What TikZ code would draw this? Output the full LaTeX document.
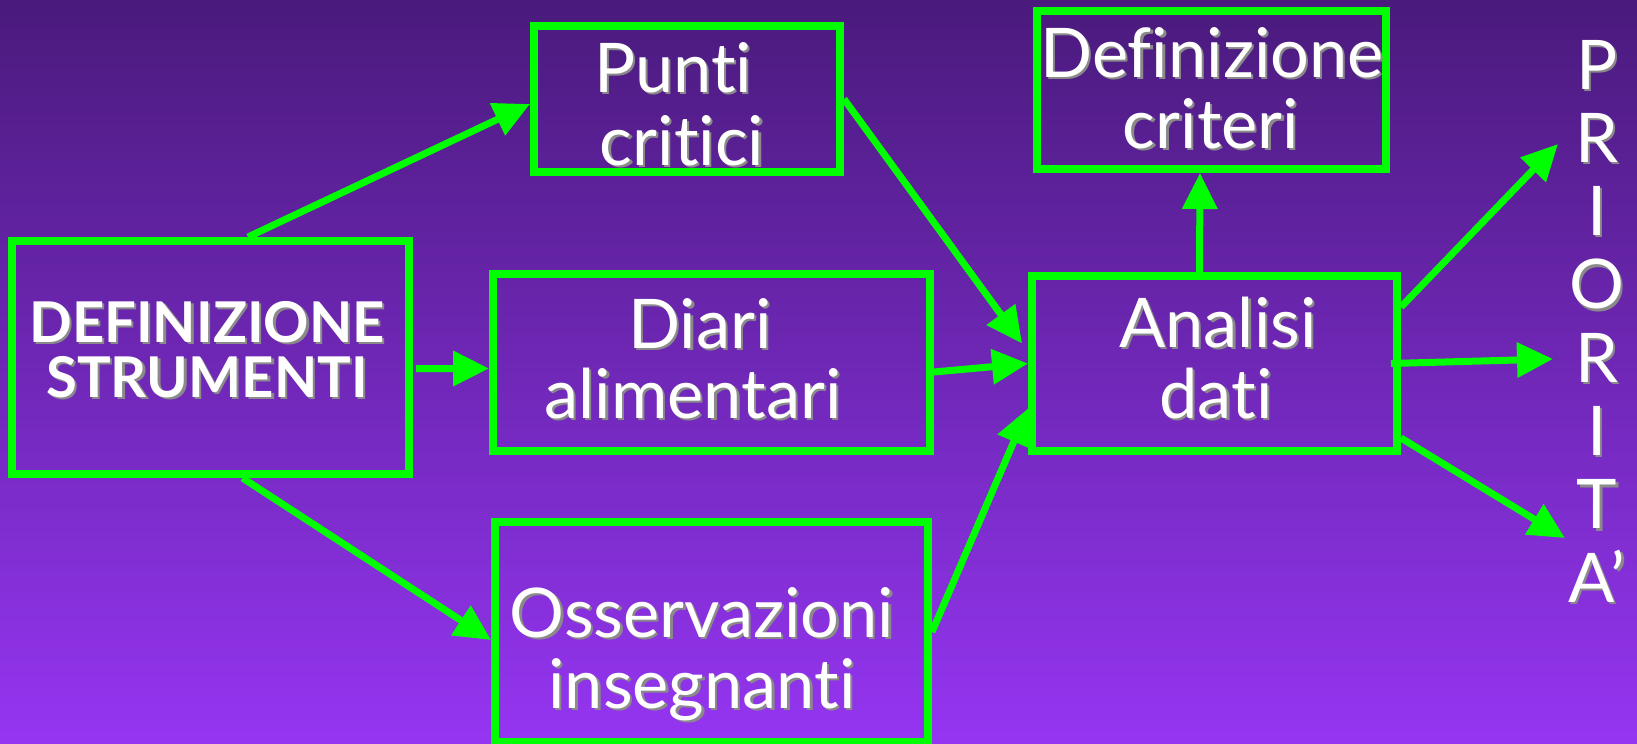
\documentclass[tikz,border=0pt]{standalone}
\usepackage{fontspec}
\setmainfont{Lato}[Ligatures=NoCommon, RawFeature={-liga,-calt,-dlig}]
\usetikzlibrary{arrows.meta}

\definecolor{verde}{HTML}{00FF00}
\definecolor{fondoalto}{HTML}{4A1A7C}
\definecolor{fondobasso}{HTML}{9535F2}
\definecolor{ombra}{HTML}{8A8A8A}

% white text with a grey shadow
\newcommand\ombra[1]{\makebox[0pt][l]{\kern1.3pt\raisebox{-1.3pt}{\textcolor{ombra}{#1}}}#1}

\tikzset{
  casella/.style={draw=verde, line width=0.16cm, inner sep=0pt},
  freccia/.style={draw=verde, line width=0.14cm, -{Triangle[length=0.72cm,width=0.68cm]}},
  testo/.style={text=white, inner sep=0pt, anchor=base, font=\fontsize{39}{40}\selectfont},
  titolo/.style={testo, font=\fontsize{32}{33}\selectfont\bfseries}
}

\begin{document}
\begin{tikzpicture}[x=0.02cm, y=-0.02cm]
            % Background
            \useasboundingbox (0,0) rectangle (1637,744);
            \shade[top color=fondoalto, bottom color=fondobasso] (0,0) rectangle (1637,744);
            
            % Boxes
            \node[casella, minimum width=7.94cm, minimum height=4.66cm] (def) at (210.5,357.5) {};
            \node[casella, minimum width=6.12cm, minimum height=2.92cm] (punti) at (687,99) {};
            \node[casella, minimum width=8.74cm, minimum height=3.54cm] (diari) at (711.5,362.5) {};
            \node[casella, minimum width=8.66cm, minimum height=4.4cm] (osserv) at (711.5,632) {};
            \node[casella, minimum width=6.98cm, minimum height=3.16cm] (crit) at (1211.5,90) {};
            \node[casella, minimum width=7.3cm, minimum height=3.5cm] (analisi) at (1214.5,363.5) {};
            
            % Texts
            \node[titolo] (def1) at (207,342) {\ombra{DEFINIZIONE}};
            \node[titolo] (def2) at (207,397) {\ombra{STRUMENTI}};
            \node[testo] (punti1) at (673,92) {\ombra{Punti}};
            \node[testo] (punti2) at (682,165) {\ombra{critici}};
            \node[testo] (diari1) at (700,348) {\ombra{Diari}};
            \node[testo] (diari2) at (693,418) {\ombra{alimentari}};
            \node[testo] (osserv1) at (702,637) {\ombra{Osservazioni}};
            \node[testo] (osserv2) at (702,708) {\ombra{insegnanti}};
            \node[testo] (crit1) at (1212,77) {\ombra{Definizione}};
            \node[testo] (crit2) at (1211,148) {\ombra{criteri}};
            \node[testo] (analisi1) at (1218,347) {\ombra{Analisi}};
            \node[testo] (analisi2) at (1216,418) {\ombra{dati}};
            
            % Vertical word
            \foreach \l [count=\i from 0] in {P,R,I,O,R,I,T,A'}
                \node[testo] (prio\i) at (1597,89+73.3*\i) {\ombra{\l}};
            
            % Free ends of the last arrows
            \coordinate (fine1) at (1558,144);
            \coordinate (fine2) at (1553,359);
            \coordinate (fine3) at (1565,538);
            
            % Arrows
            \draw[freccia] ([xshift=0.75cm]def.north) -- ([yshift=-0.1cm]punti.west);
            \draw[freccia] ([xshift=0.06cm,yshift=-0.22cm]def.east) -- ([yshift=-0.12cm]diari.west);
            \draw[freccia] ([xshift=0.64cm]def.south) -- ([yshift=-0.16cm]osserv.west);
            \draw[freccia] (punti.east) -- ([xshift=-0.12cm,yshift=0.4cm]analisi.west);
            \draw[freccia] ([yshift=-0.19cm]diari.east) -- (analisi.west);
            \draw[freccia] (osserv.east) -- ([yshift=-0.9cm]analisi.west);
            \draw[freccia] ([xshift=-0.3cm]analisi.north) -- ([xshift=-0.23cm]crit.south);
            \draw[freccia] ([yshift=1.13cm]analisi.east) -- (fine1);
            \draw[freccia] ([xshift=-0.2cm]analisi.east) -- (fine2);
            \draw[freccia] ([yshift=-1.49cm]analisi.east) -- (fine3);
\end{tikzpicture}
\end{document}
